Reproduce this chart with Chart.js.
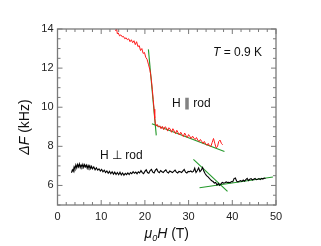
<!DOCTYPE html>
<html>
<head>
<meta charset="utf-8">
<script src="https://cdn.jsdelivr.net/npm/chart.js@4/dist/chart.umd.min.js"></script>
<style>
  body { margin: 0; background: #fff; }
  #wrap { width: 321px; height: 246px; }
</style>
</head>
<body>
<div id="wrap"><canvas id="chart" width="321" height="246"></canvas></div>
<script>
// --- Data ---
const xTicks = [0, 10, 20, 30, 40, 50];
const yTicks = [6, 8, 10, 12, 14];

// H || rod (red)
const parX = [13.3, 13.5, 13.7, 13.9, 14.2, 14.5, 14.8, 15.1, 15.4, 15.7, 16.0, 16.3, 16.6, 16.9, 17.2, 17.5, 17.8, 18.1, 18.4, 18.7,
  19.0, 19.3, 19.6, 19.9, 20.2, 20.5, 20.8, 21.1, 21.3, 21.5, 21.7, 21.9, 22.1, 22.25, 22.4, 22.6, 22.8, 23.1, 23.4, 23.7,
  24.0, 24.3, 24.6, 24.9, 25.2, 25.5, 25.8, 26.1, 26.4, 26.7, 27.0, 27.3, 27.6, 27.9, 28.2, 28.5, 28.8, 29.1, 29.4, 29.7,
  30.0, 30.3, 30.6, 30.9, 31.2, 31.5, 31.8, 32.1, 32.4, 32.7, 33.0, 33.3, 33.6, 33.9, 34.2, 34.5, 34.8, 35.1, 35.4, 35.7,
  36.0, 36.3, 36.6, 36.9, 37.2, 37.5, 37.8];
const parY = [13.9, 14.05, 13.75, 13.8, 13.65, 13.7, 13.6, 13.62, 13.5, 13.55, 13.45, 13.5, 13.35, 13.45, 13.3, 13.4, 13.2, 13.35, 13.1, 13.15,
  12.9, 13.0, 12.75, 12.8, 12.55, 12.45, 12.2, 11.95, 11.7, 11.35, 10.9, 10.4, 9.9, 9.45, 9.15, 9.05, 9.12, 8.98, 9.05, 8.9,
  9.02, 8.85, 9.0, 8.95, 8.78, 8.95, 8.88, 8.72, 8.9, 8.78, 8.65, 8.82, 8.7, 8.58, 8.72, 8.6, 8.5, 8.68, 8.55, 8.45,
  8.6, 8.5, 8.4, 8.52, 8.42, 8.35, 8.45, 8.32, 8.25, 8.35, 8.25, 8.15, 8.25, 8.12, 8.05, 8.15, 8.02, 8.0, 8.2, 8.4,
  8.15, 7.92, 7.98, 8.25, 8.32, 8.15, 8.08];

// H ⊥ rod (black)
const perpX = [3.2, 3.4, 3.6, 3.8, 4.0, 4.2, 4.4, 4.6, 4.8, 5.0, 5.2, 5.4, 5.6, 5.8, 6.0, 6.2, 6.4, 6.6, 6.8, 7.0,
  7.2, 7.4, 7.6, 7.8, 8.0, 8.3, 8.6, 8.9, 9.2, 9.5, 9.8, 10.1, 10.4, 10.7, 11.0, 11.3, 11.6, 11.9, 12.2, 12.5,
  12.8, 13.1, 13.4, 13.7, 14.0, 14.3, 14.6, 14.9, 15.2, 15.5, 15.8, 16.1, 16.4, 16.7, 17.0, 17.3, 17.6, 17.9, 18.2, 18.5,
  18.8, 19.1, 19.4, 19.7, 20.0, 20.3, 20.6, 20.9, 21.2, 21.5, 21.8, 22.1, 22.4, 22.7, 23.0, 23.3, 23.6, 23.9, 24.2, 24.5,
  24.8, 25.1, 25.4, 25.7, 26.0, 26.3, 26.6, 26.9, 27.2, 27.5, 27.8, 28.1, 28.4, 28.7, 29.0, 29.3, 29.6, 29.9, 30.2, 30.5,
  30.8, 31.1, 31.4, 31.7, 32.0, 32.3, 32.6, 32.9, 33.2, 33.5, 33.8, 34.1, 34.4, 34.7, 35.0, 35.3, 35.6, 35.9, 36.2, 36.5,
  36.8, 37.1, 37.4, 37.7, 38.0, 38.3, 38.6, 38.9, 39.2, 39.5, 39.8, 40.1, 40.4, 40.7, 41.0, 41.3, 41.6, 41.9, 42.2, 42.5,
  42.8, 43.1, 43.4, 43.7, 44.0, 44.3, 44.6, 44.9, 45.2, 45.5, 45.8, 46.1, 46.4, 46.7, 47.0, 47.3, 47.6];
const perpY = [6.65, 6.8, 6.72, 6.95, 6.85, 7.05, 6.9, 7.08, 6.95, 7.1, 6.92, 7.05, 6.95, 7.08, 6.92, 7.06, 6.95, 7.04, 6.88, 7.02,
  6.9, 7.0, 6.86, 6.98, 6.85, 6.95, 6.8, 6.9, 6.78, 6.85, 6.74, 6.82, 6.7, 6.78, 6.66, 6.74, 6.62, 6.72, 6.6, 6.7,
  6.58, 6.68, 6.56, 6.66, 6.55, 6.68, 6.54, 6.64, 6.52, 6.62, 6.55, 6.64, 6.56, 6.66, 6.6, 6.7, 6.62, 6.68, 6.6, 6.7,
  6.64, 6.76, 6.66, 6.6, 6.72, 6.8, 6.66, 6.62, 6.76, 6.82, 6.68, 6.64, 6.78, 6.84, 6.7, 6.65, 6.76, 6.7, 6.66, 6.74,
  6.8, 6.68, 6.64, 6.74, 6.7, 6.66, 6.72, 6.78, 6.68, 6.64, 6.72, 6.7, 6.66, 6.74, 6.82, 6.68, 6.64, 6.72, 6.7, 6.74,
  6.68, 6.72, 6.88, 6.66, 6.76, 6.9, 6.7, 6.78, 6.92, 6.72, 6.6, 6.5, 6.45, 6.38, 6.3, 6.24, 6.2, 6.12, 6.15, 6.02,
  6.1, 6.0, 6.08, 6.15, 6.12, 6.14, 6.18, 6.15, 6.16, 6.14, 6.2, 6.18, 6.35, 6.38, 6.22, 6.18, 6.22, 6.25, 6.2, 6.28,
  6.22, 6.3, 6.36, 6.25, 6.32, 6.35, 6.28, 6.32, 6.36, 6.3, 6.32, 6.35, 6.3, 6.36, 6.33, 6.38, 6.36];

// green fit lines, [x0, x1] and [y0, y1]
const fitParSteepX = [20.8, 22.6], fitParSteepY = [12.96, 8.56];
const fitParFlatX = [21.6, 38.2], fitParFlatY = [9.16, 7.74];
const fitPerpSteepX = [31.1, 38.9], fitPerpSteepY = [7.33, 5.7];
const fitPerpFlatX = [32.5, 49.3], fitPerpFlatY = [5.88, 6.43];

const FONT = "'Liberation Sans', Arial, sans-serif";
const GREEN = "#23992a";

function pts(xs, ys) {
    return xs.map((x, i) => ({ x: x, y: ys[i] }));
}

function lineSet(xs, ys, color, width) {
    return {
        data: pts(xs, ys),
        showLine: true,
        borderColor: color,
        borderWidth: width,
        pointRadius: 0,
        fill: false,
        tension: 0
    };
}

// frame, inward ticks, axis titles and annotations
const decorations = {
    id: "decorations",
    afterDraw(chart) {
        const ctx = chart.ctx;
        const a = chart.chartArea;
        const xs = chart.scales.x, ys = chart.scales.y;
        ctx.save();
        ctx.strokeStyle = "#7a7a7a";
        ctx.lineWidth = 1.3;
        ctx.strokeRect(a.left, a.top, a.right - a.left, a.bottom - a.top);

        ctx.lineWidth = 1;
        ctx.beginPath();
        for (let v = 0; v <= 50; v += 2) {
            const px = xs.getPixelForValue(v);
            const len = v % 10 === 0 ? 5 : 3;
            ctx.moveTo(px, a.bottom); ctx.lineTo(px, a.bottom - len);
            ctx.moveTo(px, a.top); ctx.lineTo(px, a.top + len);
        }
        for (let v = 5; v <= 14; v += 0.5) {
            const py = ys.getPixelForValue(v);
            const len = v % 2 === 0 ? 5 : 3;
            ctx.moveTo(a.left, py); ctx.lineTo(a.left + len, py);
            ctx.moveTo(a.right, py); ctx.lineTo(a.right - len, py);
        }
        ctx.stroke();

        ctx.fillStyle = "#111";
        ctx.textBaseline = "middle";

        // x title: mu_0 H (T)
        const cx = (a.left + a.right) / 2;
        const ty = 234;
        const parts = [
            { t: "\u03bc", f: "italic 14px " + FONT, dy: 0 },
            { t: "0", f: "italic 9px " + FONT, dy: 4 },
            { t: "H", f: "italic 14px " + FONT, dy: 0 },
            { t: " (T)", f: "14px " + FONT, dy: 0 }
        ];
        let w = 0;
        parts.forEach(p => { ctx.font = p.f; p.w = ctx.measureText(p.t).width; w += p.w; });
        let x = cx - w / 2;
        ctx.textAlign = "left";
        parts.forEach(p => { ctx.font = p.f; ctx.fillText(p.t, x, ty + p.dy); x += p.w; });

        // y title: Delta F (kHz)
        ctx.save();
        ctx.translate(25, 127);
        ctx.rotate(-Math.PI / 2);
        const yp = [
            { t: "\u0394F", f: "italic 14px " + FONT },
            { t: " (kHz)", f: "14px " + FONT }
        ];
        w = 0;
        yp.forEach(p => { ctx.font = p.f; p.w = ctx.measureText(p.t).width; w += p.w; });
        x = -w / 2;
        yp.forEach(p => { ctx.font = p.f; ctx.fillText(p.t, x, 0); x += p.w; });
        ctx.restore();

        // annotations placed in data units
        function label(parts, dx, dy) {
            let px = xs.getPixelForValue(dx);
            const py = ys.getPixelForValue(dy);
            parts.forEach(p => {
                ctx.font = p.f;
                ctx.fillText(p.t, px, py);
                px += ctx.measureText(p.t).width;
            });
        }
        label([{ t: "T", f: "italic 12px " + FONT }, { t: " = 0.9 K", f: "12px " + FONT }], 35.6, 12.77);
        label([{ t: "H \u2225 rod", f: "12px " + FONT }], 26.2, 10.2);
        label([{ t: "H \u22a5 rod", f: "12px " + FONT }], 9.7, 7.5);
        ctx.restore();
    }
};

const ctx = document.getElementById("chart").getContext("2d");
new Chart(ctx, {
    type: "scatter",
    data: {
        datasets: [
            lineSet(perpX, perpY, "#000000", 1.1),
            lineSet(parX, parY, "#ff1a1a", 1),
            lineSet(fitParSteepX, fitParSteepY, GREEN, 1.1),
            lineSet(fitParFlatX, fitParFlatY, GREEN, 1.1),
            lineSet(fitPerpSteepX, fitPerpSteepY, GREEN, 1.1),
            lineSet(fitPerpFlatX, fitPerpFlatY, GREEN, 1.1)
        ]
    },
    options: {
        responsive: false,
        devicePixelRatio: 1,
        animation: false,
        layout: { padding: { top: 29, right: 45, left: 0, bottom: 0 } },
        plugins: {
            legend: { display: false },
            tooltip: { enabled: false }
        },
        scales: {
            x: {
                type: "linear",
                min: 0,
                max: 50,
                afterBuildTicks: s => { s.ticks = xTicks.map(v => ({ value: v })); },
                afterFit: s => { s.height = 41; },
                grid: { display: false, drawTicks: false },
                border: { display: false },
                ticks: { padding: 5, color: "#222", font: { family: FONT, size: 11 } }
            },
            y: {
                type: "linear",
                min: 5,
                max: 14,
                afterBuildTicks: s => { s.ticks = yTicks.map(v => ({ value: v })); },
                afterFit: s => { s.width = 57.5; },
                grid: { display: false, drawTicks: false },
                border: { display: false },
                ticks: { padding: 4, color: "#222", font: { family: FONT, size: 11 } }
            }
        }
    },
    plugins: [decorations]
});
</script>
</body>
</html>
